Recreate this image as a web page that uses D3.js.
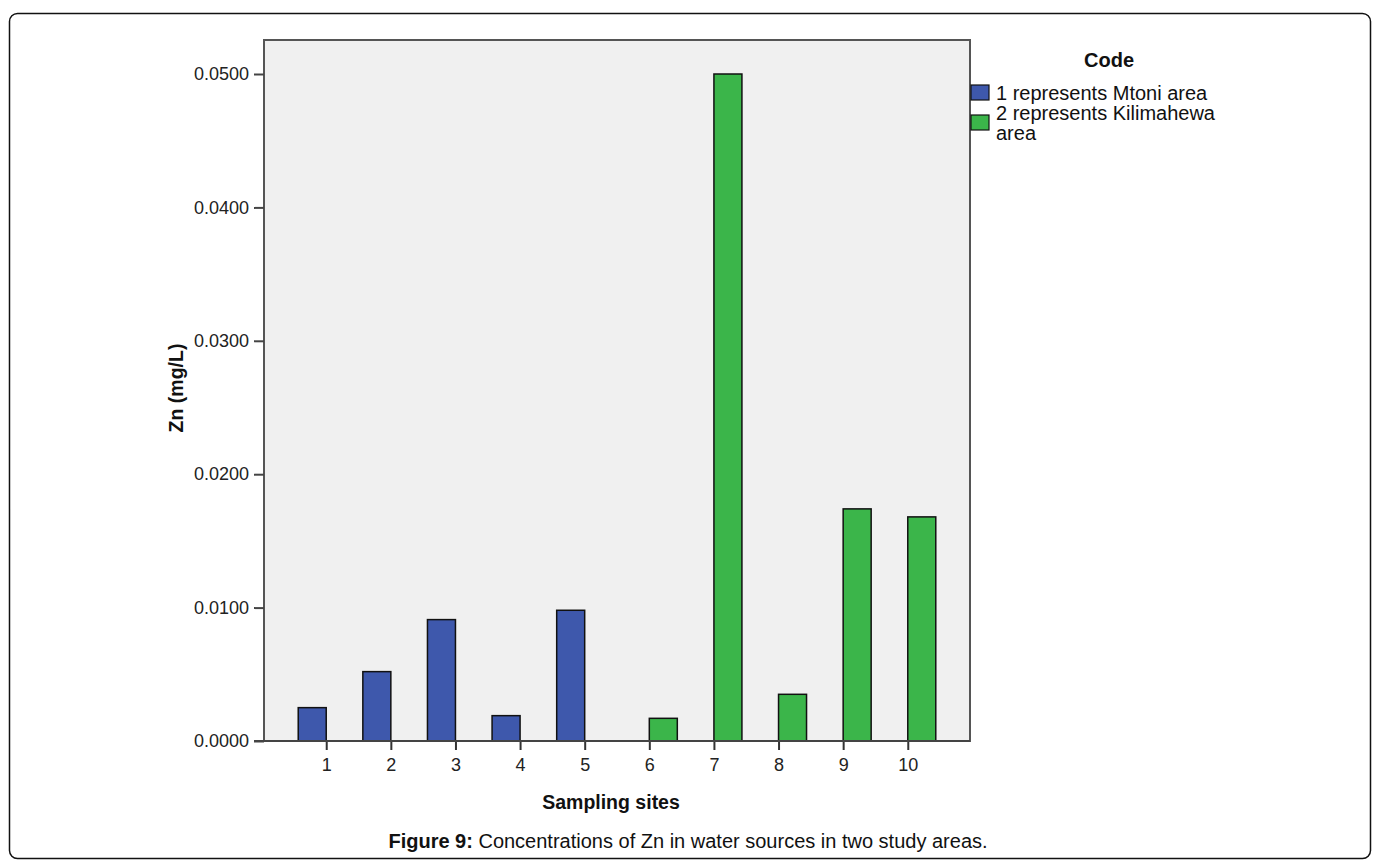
<!DOCTYPE html>
<html>
<head>
<meta charset="utf-8">
<script src="https://cdn.jsdelivr.net/npm/d3@7"></script>
<style>
  html, body { margin: 0; padding: 0; background: #fff; }
  svg { display: block; font-family: Arial, "Liberation Sans", sans-serif; }
</style>
</head>
<body>
<svg id="chart" width="1378" height="864"></svg>
<script>
const sites = ["1","2","3","4","5","6","7","8","9","10"];
const codes = [1,1,1,1,1,2,2,2,2,2];
const znValues = [0.0025, 0.0052, 0.0091, 0.0019, 0.0098, 0.0017, 0.0500, 0.0035, 0.0174, 0.0168];
const yTicks = [0, 0.01, 0.02, 0.03, 0.04, 0.05];
const legendLabels = [["1 represents Mtoni area"], ["2 represents Kilimahewa", "area"]];
const codeColors = ["#3e58ac", "#3bb54a"];

(function () {
const svg = d3.select("#chart");

// outer figure frame
svg.append("rect")
  .attr("x", 9.5).attr("y", 13.5).attr("width", 1361).attr("height", 845)
  .attr("rx", 8).attr("fill", "none").attr("stroke", "#111").attr("stroke-width", 1.5);

const pLeft = 264, pRight = 970, pTop = 40, pBottom = 741;

const x = d3.scalePoint().domain(sites).range([pLeft, pRight]).padding(0.963);
const y = d3.scaleLinear().domain([0, 0.05]).range([pBottom, 74]);
const barW = 28;

// plot background
svg.append("rect")
  .attr("x", pLeft).attr("y", pTop).attr("width", pRight - pLeft).attr("height", pBottom - pTop)
  .attr("fill", "#f0f0f0").attr("stroke", "#555").attr("stroke-width", 2);

// bars
svg.append("g").selectAll("rect")
  .data(sites.map((s, i) => ({ s, v: znValues[i], c: codes[i] })))
  .join("rect")
  .attr("x", d => d.c === 1 ? x(d.s) - barW : x(d.s))
  .attr("y", d => y(d.v))
  .attr("width", barW)
  .attr("height", d => y(0) - y(d.v))
  .attr("fill", d => codeColors[d.c - 1])
  .attr("stroke", "#111").attr("stroke-width", 1.5);

// y axis
const yAxis = svg.append("g").attr("transform", `translate(${pLeft},0)`)
  .call(d3.axisLeft(y).tickValues(yTicks).tickFormat(d3.format(".4f")).tickSize(10).tickSizeOuter(0));
yAxis.select(".domain").remove();
yAxis.selectAll(".tick line").attr("stroke", "#444").attr("stroke-width", 2);
yAxis.selectAll(".tick text").attr("x", -15).attr("font-size", 18)
  .attr("fill", "#222").attr("font-family", "Arial, 'Liberation Sans', sans-serif");

// x axis
const xAxis = svg.append("g").attr("transform", `translate(0,${pBottom})`)
  .call(d3.axisBottom(x).tickSize(9).tickSizeOuter(0));
xAxis.select(".domain").remove();
xAxis.selectAll(".tick line").attr("stroke", "#333").attr("stroke-width", 2);
xAxis.selectAll(".tick text").attr("y", 17).attr("font-size", 18)
  .attr("fill", "#222").attr("font-family", "Arial, 'Liberation Sans', sans-serif");

// baseline
svg.append("line").attr("x1", pLeft - 10).attr("x2", pRight)
  .attr("y1", pBottom).attr("y2", pBottom).attr("stroke", "#444").attr("stroke-width", 2);

// axis titles
svg.append("text")
  .attr("transform", `translate(183,388) rotate(-90)`)
  .attr("text-anchor", "middle").attr("font-size", 19.5).attr("font-weight", "bold")
  .attr("fill", "#111").text("Zn (mg/L)");

svg.append("text")
  .attr("x", 611).attr("y", 809)
  .attr("text-anchor", "middle").attr("font-size", 19.5).attr("font-weight", "bold")
  .attr("fill", "#111").text("Sampling sites");

// legend
svg.append("text").attr("x", 1109).attr("y", 67).attr("text-anchor", "middle")
  .attr("font-size", 20).attr("font-weight", "bold").attr("fill", "#111").text("Code");

const lg = svg.append("g");
const legendY = [85, 115];
legendLabels.forEach((lines, i) => {
  lg.append("rect").attr("x", 971).attr("y", legendY[i]).attr("width", 18).attr("height", 15)
    .attr("fill", codeColors[i]).attr("stroke", "#111").attr("stroke-width", 1.2);
  lines.forEach((t, j) => {
    lg.append("text").attr("x", 996).attr("y", 100 + i * 20 + j * 20)
      .attr("font-size", 20).attr("fill", "#111").text(t);
  });
});

// caption
const cap = svg.append("text").attr("x", 688).attr("y", 848).attr("text-anchor", "middle")
  .attr("font-size", 20).attr("fill", "#111");
cap.append("tspan").attr("font-weight", "bold").text("Figure 9:");
cap.append("tspan").text(" Concentrations of Zn in water sources in two study areas.");
})();
</script>
</body>
</html>
